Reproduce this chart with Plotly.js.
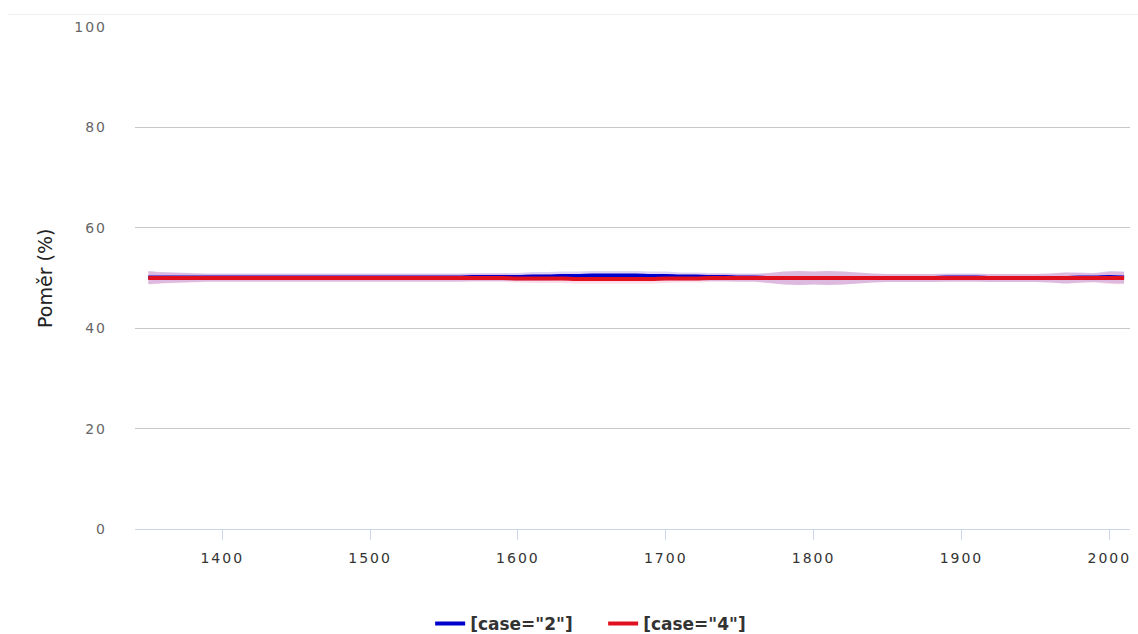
<!DOCTYPE html>
<html>
<head>
<meta charset="utf-8">
<script src="https://cdn.plot.ly/plotly-3.0.1.min.js"></script>
<style>
  html, body { margin: 0; padding: 0; background: #fff; }
  #chart { width: 1138px; height: 634px; }
  #topline { position: absolute; top: 14px; left: 8px; right: 0; height: 1px; background: #eeeeee; z-index: 5; }
  .xtick text, .ytick text { letter-spacing: 2px; }
</style>
</head>
<body>
<div id="topline"></div>
<div id="chart"></div>
<script>
const years = [1350,1360,1370,1380,1390,1400,1410,1420,1430,1440,1450,1460,1470,1480,1490,1500,1510,1520,1530,1540,1550,1560,1570,1580,1590,1600,1610,1620,1630,1640,1650,1660,1670,1680,1690,1700,1710,1720,1730,1740,1750,1760,1770,1780,1790,1800,1810,1820,1830,1840,1850,1860,1870,1880,1890,1900,1910,1920,1930,1940,1950,1960,1970,1980,1990,2000,2010];

const case2Mean = [50.1,50.1,50.1,50.1,50.1,50.1,50.1,50.1,50.1,50.1,50.1,50.1,50.1,50.1,50.1,50.1,50.1,50.1,50.1,50.1,50.1,50.1,50.2,50.2,50.2,50.2,50.3,50.3,50.4,50.4,50.5,50.5,50.5,50.5,50.4,50.4,50.3,50.3,50.2,50.2,50.1,50.1,50.0,50.0,50.0,50.0,50.0,50.0,50.0,50.0,50.0,50.0,50.0,50.0,50.1,50.1,50.1,50.0,50.0,50.0,50.0,50.0,50.0,50.1,50.1,50.2,50.1];
const case2High = [51.4,51.2,51.1,51.0,50.9,50.9,50.9,50.9,50.9,50.9,50.9,50.9,50.9,50.9,50.9,50.9,50.9,50.9,50.9,50.9,50.9,50.9,51.0,51.0,51.0,51.0,51.2,51.2,51.3,51.3,51.4,51.4,51.4,51.4,51.3,51.3,51.1,51.1,51.0,51.0,50.9,50.9,51.0,51.3,51.4,51.3,51.4,51.3,51.1,50.9,50.8,50.8,50.8,50.8,50.9,50.9,50.9,50.8,50.8,50.8,50.8,50.9,51.1,51.1,51.0,51.4,51.3];
const case2Low = [48.8,49.0,49.1,49.2,49.3,49.3,49.3,49.3,49.3,49.3,49.3,49.3,49.3,49.3,49.3,49.3,49.3,49.3,49.3,49.3,49.3,49.3,49.4,49.4,49.4,49.4,49.4,49.4,49.5,49.5,49.6,49.6,49.6,49.6,49.5,49.5,49.5,49.5,49.4,49.4,49.3,49.3,49.0,48.7,48.6,48.7,48.6,48.7,48.9,49.1,49.2,49.2,49.2,49.2,49.3,49.3,49.3,49.2,49.2,49.2,49.2,49.1,48.9,49.1,49.2,49.0,48.9];

const case4Mean = [50.0,50.0,50.0,50.0,50.0,50.0,50.0,50.0,50.0,50.0,50.0,50.0,50.0,50.0,50.0,50.0,50.0,50.0,50.0,50.0,50.0,50.0,50.0,50.0,50.0,49.9,49.9,49.9,49.9,49.8,49.8,49.8,49.8,49.8,49.8,49.9,49.9,49.9,50.0,50.0,50.0,50.0,50.0,50.0,50.0,50.0,50.0,50.0,50.0,50.0,50.0,50.0,50.0,50.0,50.0,50.0,50.0,50.0,50.0,50.0,50.0,50.0,50.0,50.0,50.0,50.0,50.0];
const case4High = [51.3,51.1,51.0,50.9,50.8,50.8,50.8,50.8,50.8,50.8,50.8,50.8,50.8,50.8,50.8,50.8,50.8,50.8,50.8,50.8,50.8,50.8,50.8,50.8,50.8,50.7,50.8,50.8,50.8,50.7,50.7,50.7,50.7,50.7,50.7,50.8,50.7,50.7,50.8,50.8,50.8,50.8,51.0,51.3,51.4,51.3,51.4,51.3,51.1,50.9,50.8,50.8,50.8,50.8,50.8,50.8,50.8,50.8,50.8,50.8,50.8,50.9,51.1,51.0,50.9,51.2,51.2];
const case4Low = [48.7,48.9,49.0,49.1,49.2,49.2,49.2,49.2,49.2,49.2,49.2,49.2,49.2,49.2,49.2,49.2,49.2,49.2,49.2,49.2,49.2,49.2,49.2,49.2,49.2,49.1,49.0,49.0,49.0,48.9,48.9,48.9,48.9,48.9,48.9,49.0,49.1,49.1,49.2,49.2,49.2,49.2,49.0,48.7,48.6,48.7,48.6,48.7,48.9,49.1,49.2,49.2,49.2,49.2,49.2,49.2,49.2,49.2,49.2,49.2,49.2,49.1,48.9,49.0,49.1,48.8,48.8];

const seriesNames = ['[case="2"]', '[case="4"]'];
const xTicks = [1400,1500,1600,1700,1800,1900,2000];
const yTicks = [0,20,40,60,80,100];
const yTitle = 'Poměr (%)';

const traces = [
  {x: years, y: case2Low, type: 'scatter', mode: 'lines', line: {width: 0, shape: 'spline'}, showlegend: false, hoverinfo: 'skip'},
  {x: years, y: case2High, type: 'scatter', mode: 'lines', line: {width: 0, shape: 'spline'}, fill: 'tonexty', fillcolor: 'rgba(80,30,200,0.2)', showlegend: false, hoverinfo: 'skip'},
  {x: years, y: case4Low, type: 'scatter', mode: 'lines', line: {width: 0, shape: 'spline'}, showlegend: false, hoverinfo: 'skip'},
  {x: years, y: case4High, type: 'scatter', mode: 'lines', line: {width: 0, shape: 'spline'}, fill: 'tonexty', fillcolor: 'rgba(230,50,120,0.16)', showlegend: false, hoverinfo: 'skip'},
  {x: years, y: case2Mean, type: 'scatter', mode: 'lines', name: seriesNames[0], line: {color: '#0000cc', width: 4, shape: 'spline'}},
  {x: years, y: case4Mean, type: 'scatter', mode: 'lines', name: seriesNames[1], line: {color: '#e0101e', width: 4, shape: 'spline'}}
];

const layout = {
  width: 1138, height: 634,
  margin: {l: 135, r: 8, t: 27, b: 105},
  paper_bgcolor: '#fff', plot_bgcolor: '#fff',
  font: {family: 'DejaVu Sans, sans-serif', color: '#666'},
  xaxis: {
    range: [1341, 2014], tickvals: xTicks, ticktext: xTicks.map(String),
    showgrid: false, zeroline: false, showline: true, linecolor: '#ccd6eb', linewidth: 1,
    ticks: 'outside', ticklen: 10, tickcolor: '#ccd6eb', ticklabelstandoff: 6,
    tickfont: {size: 14, color: '#333'}, automargin: false
  },
  yaxis: {
    range: [0, 100], tickvals: yTicks, ticktext: yTicks.map(String),
    showgrid: true, gridcolor: '#c8c8c8', gridwidth: 1, zeroline: false, showline: false,
    ticks: '', ticklabelstandoff: 27,
    tickfont: {size: 14, color: '#666'}, automargin: false
  },
  annotations: [{
    text: yTitle, xref: 'paper', yref: 'paper', x: -0.0905, y: 0.5,
    xanchor: 'center', yanchor: 'middle', textangle: -90, showarrow: false,
    font: {size: 19, color: '#222'}
  }],
  legend: {
    orientation: 'h', xref: 'container', yref: 'container', x: 0.53, xanchor: 'center', y: 0.016, yanchor: 'middle',
    traceorder: 'normal', font: {size: 17, color: '#333', weight: 'bold'},
    entrywidth: 128, entrywidthmode: 'pixels'
  },
  showlegend: true
};

Plotly.newPlot('chart', traces, layout, {staticPlot: true});
</script>
</body>
</html>
